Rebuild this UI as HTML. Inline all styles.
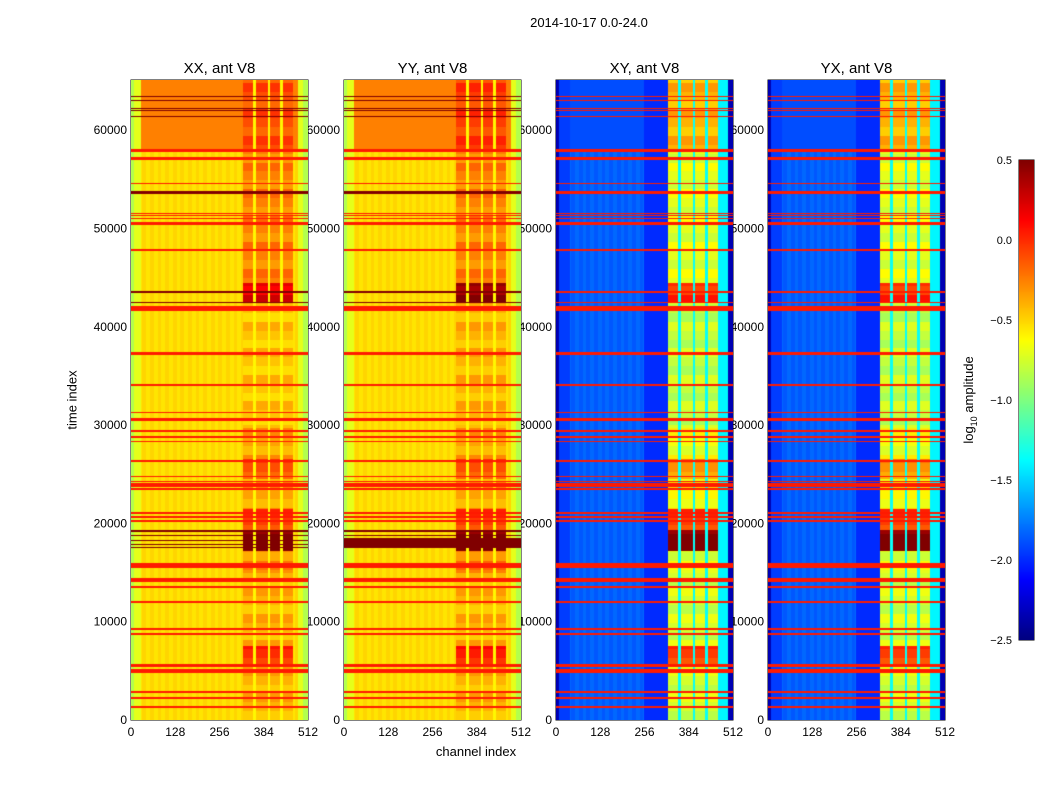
<!DOCTYPE html>
<html><head><meta charset="utf-8"><style>
body{margin:0;background:#fff;width:1050px;height:800px;position:relative;overflow:hidden;font-family:"Liberation Sans",sans-serif;color:#000}
.t{position:absolute;white-space:nowrap}
canvas{position:absolute}
</style></head><body>
<div class="t" style="left:0;width:1178px;text-align:center;top:15px;font-size:13px">2014-10-17 0.0-24.0</div>
<div class="t" style="left:72px;top:400px;font-size:13px;transform:translate(-50%,-50%) rotate(-90deg)">time index</div>
<div class="t" style="left:476px;top:744px;font-size:13px;transform:translateX(-50%)">channel index</div>
<div class="t" style="left:970px;top:400px;font-size:13px;transform:translate(-50%,-50%) rotate(-90deg)">log<sub style="font-size:9px">10</sub> amplitude</div>
<svg id="ov" width="1050" height="800" style="position:absolute;left:0;top:0"></svg>
<script>
const panelNames=["XX, ant V8","YY, ant V8","XY, ant V8","YX, ant V8"];
const panelLeft=[131,344,556,768];
const yTicks=[0,10000,20000,30000,40000,50000,60000];
const xTicks=[0,128,256,384,512];
const cbTicks=[0.5,0.0,-0.5,-1.0,-1.5,-2.0,-2.5];
const tMax=65100, chMax=512, vMin=-2.5, vMax=0.5;
const flagT=[63450,63050,62240,62030,61420,57970,57150,54600,53700,51560,51350,51050,50540,47800,43530,42500,42000,41800,37320,34070,31320,30610,29390,28780,28370,26340,24810,24300,24000,23800,23490,21050,20640,20240,19220,18800,18300,17900,17500,15860,15560,14240,13530,12000,9250,8750,5590,4980,2850,2240,1320];
const flagW=[60,60,60,60,60,150,150,60,150,60,60,60,150,60,60,60,150,150,150,60,60,150,60,60,60,60,60,60,60,60,60,60,60,150,60,50,50,50,50,150,60,200,60,60,60,60,150,250,60,60,60];
const flagDark=[1,1,1,1,1,0,0,0,1,0,0,0,0,0,1,1,0,0,0,0,0,0,0,0,0,0,0,0,0,0,0,0,0,0,1,1,1,1,1,0,0,0,0,0,0,0,0,0,0,0,0];
const rfiStart=[325,362,402,440];
const rfiEnd=[354,396,432,470];
const blockT=[0,5500,7500,15000,17200,19300,21500,24500,26500,30000,42400,44500,58000,65100];
const rfiXX=[-0.4,0.0,-0.4,-0.3,0.5,-0.05,-0.35,-0.1,-0.35,-0.45,0.2,-0.25,-0.1];
const rfiYY=[-0.4,0.05,-0.4,-0.25,0.5,-0.05,-0.35,-0.1,-0.35,-0.4,0.45,-0.25,-0.05];
const rfiXY=[-0.75,-0.05,-0.75,-0.7,0.5,-0.05,-0.6,-0.3,-0.65,-0.8,0.0,-0.7,-0.4];
const rfiYX=[-0.75,-0.05,-0.75,-0.7,0.5,-0.05,-0.6,-0.3,-0.65,-0.8,0.0,-0.7,-0.4];
const rfi=[rfiXX,rfiYY,rfiXY,rfiYX];
const bgEdge=[-0.85,-0.85,-2.35,-2.35];
const bgMain=[-0.55,-0.55,-1.87,-1.87];
const bgTop=[-0.25,-0.25,-1.9,-1.9];
const bgGap=[-0.6,-0.6,-1.35,-1.35];
const fullDarkT=[null,[17500,18500],null,null];

function jet(v){let x=(v-vMin)/(vMax-vMin);x=Math.max(0,Math.min(1,x));
 const f=(a)=>Math.max(0,Math.min(1,1.5-Math.abs(4*x-a)));
 return [f(3)*255,f(2)*255,f(1)*255];}
function blockVal(arr,t){for(let i=blockT.length-2;i>=0;i--) if(t>=blockT[i]) return arr[i]; return arr[0];}
function value(p,ch,t){
 for(let i=0;i<flagT.length;i++) if(Math.abs(t-flagT[i])<=flagW[i]){ if(flagDark[i]&&p<2) return 0.5; if(flagDark[i]&&t>17000&&t<19500) continue; return 0.05;}
 if(fullDarkT[p]&&t>=fullDarkT[p][0]&&t<=fullDarkT[p][1]) return 0.5;
 for(let k=0;k<4;k++) if(ch>=rfiStart[k]&&ch<rfiEnd[k]){let v=blockVal(rfi[p],t);return v+((Math.floor(t/900)%3)-1)*0.08;}
 if(ch>=rfiStart[0]&&ch<rfiEnd[3]) return bgGap[p];
 if(ch<8||ch>497) return bgEdge[p];
 if(p>=2){ if(ch>470&&ch<=497) return -1.4; if(ch>255&&ch<325) return -2.0; if(ch<40) return -1.95;}
 else { if(ch<28||ch>482) return -0.7; }
 if(t>58000) return bgTop[p];
 return bgMain[p]+((Math.floor(ch/11)%2)*0.05);
}
const W=177,H=640,TOP=80;
panelLeft.forEach((L,p)=>{
 const c=document.createElement('canvas');c.width=W;c.height=H;
 c.style.left=L+'px';c.style.top=TOP+'px';
 
 
 document.body.appendChild(c);
 const ctx=c.getContext('2d');const img=ctx.createImageData(W,H);
 for(let y=0;y<H;y++){const t=(H-y-0.5)/H*tMax;
  for(let x=0;x<W;x++){const ch=(x+0.5)/W*chMax;const col=jet(value(p,ch,t));const o=(y*W+x)*4;
   img.data[o]=col[0];img.data[o+1]=col[1];img.data[o+2]=col[2];img.data[o+3]=255;}}
 ctx.putImageData(img,0,0);
});
(function(){const c=document.createElement('canvas');c.width=15;c.height=480;c.style.left='1019px';c.style.top='160px';
 
 
 document.body.appendChild(c);const ctx=c.getContext('2d');
 for(let y=0;y<480;y++){const v=vMax-(y+0.5)/480*(vMax-vMin);const k=jet(v);ctx.fillStyle=`rgb(${k[0]|0},${k[1]|0},${k[2]|0})`;ctx.fillRect(0,y,15,1);}})();
const ov=document.getElementById('ov');const NS='http://www.w3.org/2000/svg';
function el(tag,a,txt){const e=document.createElementNS(NS,tag);for(const k in a)e.setAttribute(k,a[k]);if(txt!=null)e.textContent=txt;ov.appendChild(e);return e;}
const ys=t=>TOP+H-t/tMax*H, xs=(L,ch)=>L+ch/chMax*W;
panelLeft.forEach((L,p)=>{
 const fr=el('rect',{x:L,y:TOP,width:W,height:H,fill:'none',stroke:'#000','stroke-width':1});
 
 
 const tt=el('text',{x:L+W/2,y:73,'text-anchor':'middle','font-size':15},panelNames[p]);
 
 
 yTicks.forEach(v=>{const y=ys(v);
  el('line',{x1:L,x2:L+4,y1:y,y2:y,stroke:'#000'});el('line',{x1:L+W-4,x2:L+W,y1:y,y2:y,stroke:'#000'});
  const lb=el('text',{x:L-4,y:y+4,'text-anchor':'end','font-size':12},String(v));
  
  });
 xTicks.forEach(v=>{const x=xs(L,v);
  el('line',{x1:x,x2:x,y1:TOP+H,y2:TOP+H-4,stroke:'#000'});el('line',{x1:x,x2:x,y1:TOP,y2:TOP+4,stroke:'#000'});
  const lb=el('text',{x:x,y:TOP+H+16,'text-anchor':'middle','font-size':12},String(v));
  
  });
});
el('rect',{x:1019,y:160,width:15,height:480,fill:'none',stroke:'#000'});
cbTicks.forEach(v=>{const y=160+(vMax-v)/(vMax-vMin)*480;
 el('line',{x1:1030,x2:1034,y1:y,y2:y,stroke:'#000'});
 el('line',{x1:1019,x2:1023,y1:y,y2:y,stroke:'#000'});
 const s=(v<0?'\u2212':'')+Math.abs(v).toFixed(1);
 const lb=el('text',{x:1012,y:y+4,'text-anchor':'end','font-size':11},s);
 
 });
</script>
</body></html>
